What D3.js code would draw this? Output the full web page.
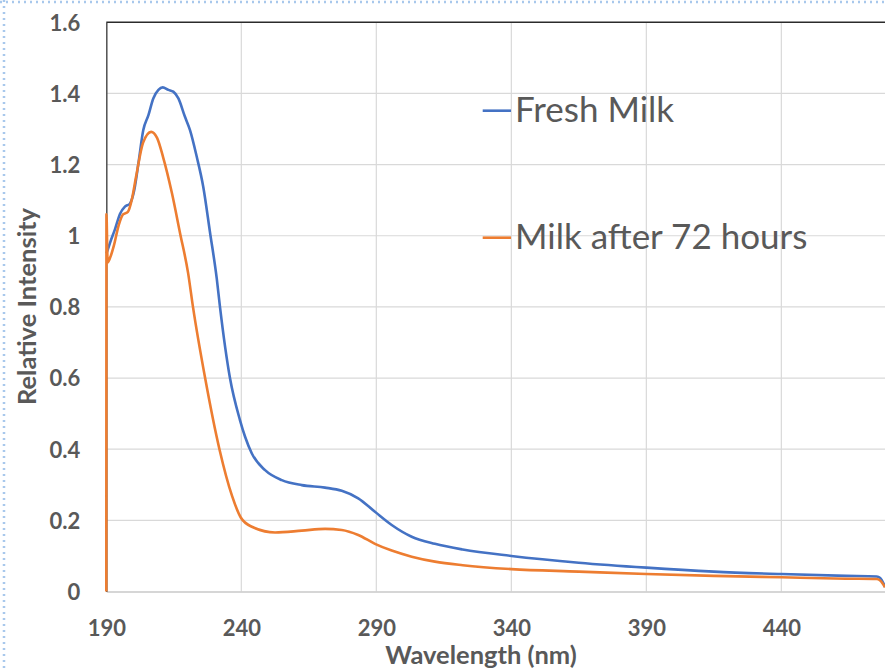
<!DOCTYPE html>
<html>
<head>
<meta charset="utf-8">
<script src="https://cdn.jsdelivr.net/npm/d3@7"></script>
<style>
  html, body { margin: 0; padding: 0; background: #fff; }
  svg { display: block; }
</style>
</head>
<body>
<svg id="chart" width="885" height="671"></svg>
<script>
// ---- data ----
const seriesNames = ["Fresh Milk", "Milk after 72 hours"];

const wavelengthFresh = [190.0, 190.4, 191.6, 193.2, 195.1, 196.9, 198.7, 200.4, 201.9, 203.7,
  205.6, 207.4, 209.3, 210.9, 213.0, 214.8, 216.7, 219.1, 221.0, 223.5, 225.9, 228.4, 230.9,
  232.1, 235.8, 239.5, 241.4, 243.9, 248.8, 255.0, 262.4, 271.0, 277.2, 283.3, 289.5, 295.7,
  303.1, 311.7, 322, 340, 365, 390, 415, 440, 464, 475.3, 476.6, 478.4];
const intensityFresh = [0.950, 0.958, 0.985, 1.018, 1.062, 1.082, 1.090, 1.130, 1.204, 1.297,
  1.339, 1.386, 1.410, 1.417, 1.410, 1.405, 1.386, 1.335, 1.297, 1.222, 1.138, 1.010, 0.880,
  0.800, 0.600, 0.482, 0.435, 0.388, 0.341, 0.313, 0.299, 0.292, 0.283, 0.262, 0.224, 0.187,
  0.154, 0.134, 0.118, 0.100, 0.081, 0.067, 0.056, 0.049, 0.044, 0.042, 0.038, 0.013];

const wavelengthAged = [190.0, 190.05, 190.5, 191.5, 192.8, 194.6, 196.2, 198.0, 199.4, 201.0,
  203.6, 206.6, 208.8, 211.0, 214.3, 217.3, 220.3, 222.1, 226.6, 231.9, 236.6, 239.8,
  243.9, 252.5, 262.4, 271.0, 277.2, 283.3, 289.5, 295.7, 303.1, 311.7, 322, 340, 365, 390,
  415, 440, 464, 475.3, 476.6, 478.4];
const intensityAged = [0.0, 1.06, 0.925, 0.940, 0.972, 1.030, 1.060, 1.067, 1.100, 1.165,
  1.261, 1.292, 1.275, 1.222, 1.120, 1.008, 0.895, 0.800, 0.600, 0.400, 0.268, 0.208,
  0.182, 0.166, 0.171, 0.176, 0.173, 0.159, 0.134, 0.115, 0.098, 0.084, 0.074, 0.063, 0.056,
  0.049, 0.044, 0.040, 0.036, 0.035, 0.031, 0.012];

const xTicks = [190, 240, 290, 340, 390, 440];
const xTickLabels = ["190", "240", "290", "340", "390", "440"];
const yTicks = [0, 0.2, 0.4, 0.6, 0.8, 1, 1.2, 1.4, 1.6];
const yTickLabels = ["0", "0.2", "0.4", "0.6", "0.8", "1", "1.2", "1.4", "1.6"];
const xTitle = "Wavelength (nm)";
const yTitle = "Relative Intensity";

// ---- layout ----
const svg = d3.select("#chart");
const plotLeft = 106.3, plotRight = 885.3, plotTop = 22.3, plotBottom = 591.5;
const x = d3.scaleLinear().domain([190, 478.5]).range([plotLeft, plotRight]);
const y = d3.scaleLinear().domain([0, 1.6]).range([plotBottom, plotTop]);
const textColor = "#595959";
const font = "Lato, 'Open Sans', sans-serif";
const colors = ["#4472C4", "#ED7D31"];

// dotted selection border
svg.append("line").attr("x1", 4).attr("x2", 4).attr("y1", 0).attr("y2", 671)
  .attr("stroke", "#a8c8ec").attr("stroke-width", 2.5).attr("stroke-dasharray", "2,4");
svg.append("line").attr("x1", 0).attr("x2", 885).attr("y1", 2).attr("y2", 2)
  .attr("stroke", "#a8c8ec").attr("stroke-width", 2.5).attr("stroke-dasharray", "2,4");

// gridlines
const grid = svg.append("g");
grid.selectAll(".hg").data(yTicks.slice(1, -1)).join("line")
  .attr("x1", plotLeft).attr("x2", plotRight)
  .attr("y1", d => y(d)).attr("y2", d => y(d))
  .attr("stroke", "#d9d9d9").attr("stroke-width", 1.2);
grid.selectAll(".vg").data(xTicks.slice(1)).join("line")
  .attr("x1", d => x(d)).attr("x2", d => x(d))
  .attr("y1", plotTop).attr("y2", plotBottom)
  .attr("stroke", "#d9d9d9").attr("stroke-width", 1.2);

// axes
const xAxis = d3.axisBottom(x).tickValues(xTicks).tickFormat((d, i) => xTickLabels[i]).tickSize(0).tickPadding(0);
const gx = svg.append("g").attr("transform", `translate(0,${plotBottom})`).call(xAxis);
gx.select(".domain").attr("stroke", "#c8c8c8").attr("stroke-width", 1.5);
gx.selectAll("text").attr("y", 44).attr("dy", null)
  .attr("fill", textColor).attr("font-family", font).attr("font-weight", "bold").attr("font-size", 22);

const yAxis = d3.axisLeft(y).tickValues(yTicks).tickFormat((d, i) => yTickLabels[i]).tickSize(0).tickPadding(26);
const gy = svg.append("g").attr("transform", `translate(${plotLeft},0)`).call(yAxis);
gy.select(".domain").attr("stroke", "#505050").attr("stroke-width", 1.5);
gy.selectAll("text").attr("dy", "0.36em")
  .attr("fill", textColor).attr("font-family", font).attr("font-weight", "bold").attr("font-size", 22);

// top border
svg.append("line").attr("x1", plotLeft).attr("x2", plotRight).attr("y1", plotTop).attr("y2", plotTop)
  .attr("stroke", "#2b2b2b").attr("stroke-width", 1.5);

// series lines
const line = d3.line().x(d => x(d[0])).y(d => y(d[1])).curve(d3.curveMonotoneX);
const freshData = wavelengthFresh.map((w, i) => [w, intensityFresh[i]]);
const agedData = wavelengthAged.map((w, i) => [w, intensityAged[i]]);
svg.append("path").datum(freshData).attr("d", line)
  .attr("fill", "none").attr("stroke", colors[0]).attr("stroke-width", 2.6).attr("stroke-linejoin", "round");
svg.append("path").datum(agedData).attr("d", line)
  .attr("fill", "none").attr("stroke", colors[1]).attr("stroke-width", 2.6).attr("stroke-linejoin", "round");

// legend
const legendY = [110.7, 237.7];
seriesNames.forEach((name, i) => {
  svg.append("line").attr("x1", 482.7).attr("x2", 511).attr("y1", legendY[i]).attr("y2", legendY[i])
    .attr("stroke", colors[i]).attr("stroke-width", 2.6);
  svg.append("text").attr("x", 515).attr("y", legendY[i] + 11.5)
    .attr("fill", textColor).attr("font-family", font).attr("font-size", 35).text(name);
});

// axis titles
svg.append("text").attr("x", 481).attr("y", 664).attr("text-anchor", "middle")
  .attr("fill", textColor).attr("font-family", font).attr("font-weight", "bold").attr("font-size", 25.5)
  .text(xTitle);
svg.append("text").attr("transform", "translate(36,306.5) rotate(-90)").attr("text-anchor", "middle")
  .attr("fill", textColor).attr("font-family", font).attr("font-weight", "bold").attr("font-size", 25.5)
  .text(yTitle);
</script>
</body>
</html>
